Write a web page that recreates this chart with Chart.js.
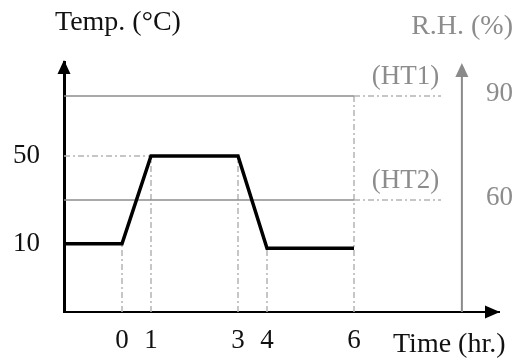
<!DOCTYPE html>
<html>
<head>
<meta charset="utf-8">
<script src="https://cdn.jsdelivr.net/npm/chart.js@4"></script>
<style>
  html, body { margin: 0; padding: 0; background: #fff; }
  #wrap { width: 516px; height: 362px; }
</style>
</head>
<body>
<div id="wrap"><canvas id="profileChart"></canvas></div>
<script>
// schematic time slots (not to scale in the original drawing)
const timeSlots = ['', '', '0', '1', '', '', '3', '4', '', '', '6', '', '', '', '', ''];
const tempProfile = [10, null, 10, 50, null, null, 50, 8, null, null, 8];
const tempTicks = [10, 50];
const rhTicks = [90, 60];
const rhLevels = [90, 60];
const rhNames = ['(HT1)', '(HT2)'];

const SERIF = '"Liberation Serif", "DejaVu Serif", serif';
const GRAY_TEXT = '#8c8c8c';
const DASH_DOT = [6, 3, 2, 3];
const RH_AXIS_SLOT = 13.72;

function levelLine(level) {
    // solid up to the last time slot, dash-dot out to the R.H. axis
    const data = new Array(14).fill(null);
    data[0] = level;
    data[tempProfile.length - 1] = level;
    data[13] = level;
    return data;
}

function arrow(ctx, tipX, tipY, dir, color) {
    ctx.save();
    ctx.fillStyle = color;
    ctx.beginPath();
    if (dir === 'up') {
        ctx.moveTo(tipX, tipY);
        ctx.lineTo(tipX - 6.5, tipY + 14);
        ctx.lineTo(tipX + 6.5, tipY + 14);
    } else {
        ctx.moveTo(tipX, tipY);
        ctx.lineTo(tipX - 15, tipY - 6.5);
        ctx.lineTo(tipX - 15, tipY + 6.5);
    }
    ctx.closePath();
    ctx.fill();
    ctx.restore();
}

const guidePlugin = {
    id: 'guides',
    beforeDatasetsDraw(chart) {
        const { ctx, chartArea } = chart;
        const xs = chart.scales.x, ys = chart.scales.y, y2 = chart.scales.y2;
        ctx.save();
        ctx.setLineDash(DASH_DOT);
        ctx.strokeStyle = '#b4b4b4';
        ctx.lineWidth = 1.5;

        // vertical guides under each time tick
        timeSlots.forEach((lab, i) => {
            if (!lab) return;
            const x = xs.getPixelForValue(i);
            const top = i === tempProfile.length - 1
                ? y2.getPixelForValue(rhLevels[0])
                : ys.getPixelForValue(tempProfile[i]);
            ctx.beginPath();
            ctx.moveTo(x, chartArea.bottom);
            ctx.lineTo(x, top);
            ctx.stroke();
        });

        // horizontal guide from the temp axis to the first point at each tick value
        tempTicks.forEach(v => {
            const idx = tempProfile.indexOf(v, 1);
            if (idx < 0 || tempProfile[0] === v) return;
            const y = ys.getPixelForValue(v);
            ctx.beginPath();
            ctx.moveTo(chartArea.left, y);
            ctx.lineTo(xs.getPixelForValue(idx), y);
            ctx.stroke();
        });
        ctx.restore();
    },
    afterDraw(chart) {
        const { ctx, chartArea } = chart;
        const xs = chart.scales.x, y2 = chart.scales.y2;
        const rhX = xs.getPixelForValue(RH_AXIS_SLOT);

        // R.H. axis
        ctx.save();
        ctx.strokeStyle = '#8a8a8a';
        ctx.lineWidth = 2;
        ctx.beginPath();
        ctx.moveTo(rhX, chartArea.bottom);
        ctx.lineTo(rhX, chartArea.top + 6);
        ctx.stroke();
        ctx.restore();
        arrow(ctx, rhX, chartArea.top + 1, 'up', '#8a8a8a');

        arrow(ctx, chartArea.left, chartArea.top - 2, 'up', '#000');
        arrow(ctx, chartArea.right + 1, chartArea.bottom, 'right', '#000');

        ctx.save();
        ctx.font = '27px ' + SERIF;
        ctx.textBaseline = 'middle';
        ctx.fillStyle = GRAY_TEXT;
        ctx.textAlign = 'left';
        rhTicks.forEach(v => {
            ctx.fillText(String(v), rhX + 24, y2.getPixelForValue(v) - 2);
        });

        ctx.textAlign = 'center';
        ctx.textBaseline = 'alphabetic';
        const midX = (xs.getPixelForValue(tempProfile.length - 1) + xs.getPixelForValue(13)) / 2 + 8;
        rhLevels.forEach((lvl, i) => {
            ctx.fillText(rhNames[i], midX, y2.getPixelForValue(lvl) - 12);
        });

        ctx.font = '28px ' + SERIF;
        ctx.textAlign = 'right';
        ctx.fillText('R.H. (%)', 513, 34);

        ctx.fillStyle = '#111';
        ctx.textAlign = 'left';
        ctx.fillText('Temp. (°C)', 55, 30);
        ctx.fillText('Time (hr.)', 393, 352);
        ctx.restore();
    }
};

new Chart(document.getElementById('profileChart'), {
    type: 'line',
    data: {
        labels: timeSlots,
        datasets: [
            {
                data: tempProfile,
                borderColor: '#000',
                borderWidth: 3.5,
                pointRadius: 0,
                spanGaps: true,
                yAxisID: 'y',
                order: 0
            },
            ...rhLevels.map(lvl => ({
                data: levelLine(lvl),
                borderColor: '#8c8c8c',
                borderWidth: 1.5,
                pointRadius: 0,
                spanGaps: true,
                yAxisID: 'y2',
                order: 1,
                segment: {
                    borderDash: c => c.p0DataIndex >= tempProfile.length - 1 ? DASH_DOT : undefined,
                    borderColor: c => c.p0DataIndex >= tempProfile.length - 1 ? '#b4b4b4' : undefined
                }
            }))
        ]
    },
    options: {
        responsive: true,
        maintainAspectRatio: false,
        animation: false,
        layout: { padding: { top: 62, right: 17, left: 0, bottom: 0 } },
        plugins: { legend: { display: false }, tooltip: { enabled: false } },
        scales: {
            x: {
                type: 'category',
                grid: { display: false, drawTicks: false },
                border: { color: '#000', width: 2 },
                ticks: {
                    autoSkip: false, maxRotation: 0, padding: 13,
                    color: '#111', font: { size: 27, family: SERIF }
                },
                afterFit: s => { s.height = 50; }
            },
            y: {
                position: 'left',
                min: -21, max: 92.7,
                grid: { display: false, drawTicks: false },
                border: { color: '#000', width: 3 },
                ticks: { padding: 24, color: '#111', font: { size: 27, family: SERIF } },
                afterBuildTicks: s => { s.ticks = tempTicks.map(v => ({ value: v })); },
                afterFit: s => { s.width = 64; }
            },
            y2: {
                display: false,
                min: 27.7, max: 99.8
            }
        }
    },
    plugins: [guidePlugin]
});
</script>
</body>
</html>
